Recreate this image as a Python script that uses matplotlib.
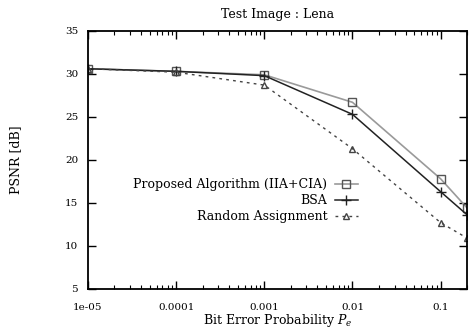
import matplotlib
matplotlib.use('Agg')
import matplotlib.pyplot as plt
import numpy as np

plt.rcParams['font.family'] = 'DejaVu Serif'
plt.rcParams['mathtext.fontset'] = 'dejavuserif'

# bit error probabilities
ber = [1e-5, 1e-4, 1e-3, 1e-2, 0.1, 0.2]
# PSNR values
psnr_proposed = [30.6, 30.3, 29.9, 26.7, 17.8, 14.4]
psnr_bsa = [30.6, 30.3, 29.8, 25.3, 16.3, 13.6]
psnr_random = [30.6, 30.2, 28.7, 21.3, 12.7, 10.9]

labels = ['Proposed Algorithm (IIA+CIA)', 'BSA', 'Random Assignment']
xticks = [1e-5, 1e-4, 1e-3, 1e-2, 0.1]
xticklabels = ['1e-05', '0.0001', '0.001', '0.01', '0.1']
yticks = [5, 10, 15, 20, 25, 30, 35]

fig = plt.figure(figsize=(4.7, 3.29), dpi=100)
ax = fig.add_axes([0.187, 0.122, 0.807, 0.784])

ax.plot(ber, psnr_proposed, color='#9a9a9a', lw=1.2, marker='s', ms=6,
        mfc='none', mec='#555555', label=labels[0])
ax.plot(ber, psnr_bsa, color='#222222', lw=1.1, marker='+', ms=7,
        mec='#222222', label=labels[1])
ax.plot(ber, psnr_random, color='#444444', lw=1.0, ls=(0, (2, 3)), marker='^',
        ms=5, mfc='none', mec='#444444', label=labels[2])

ax.set_xscale('log')
ax.set_xlim(1e-5, 0.2)
ax.set_ylim(5, 35)
ax.set_xticks(xticks)
ax.set_xticklabels(xticklabels)
ax.set_yticks(yticks)
ax.tick_params(which='both', direction='in', top=True, right=True, labelsize=7.5)
ax.tick_params(which='major', length=6, width=1.0, pad=7)
ax.tick_params(axis='x', which='major', pad=10)
ax.tick_params(which='minor', length=3, width=0.8)
for s in ax.spines.values():
    s.set_linewidth(1.3)

ax.set_title('Test Image : Lena', fontsize=9, pad=9)
ax.set_xlabel('Bit Error Probability $P_e$', fontsize=9, labelpad=0)
ax.set_ylabel('PSNR [dB]', fontsize=9, labelpad=31)

leg = ax.legend(loc='upper right', bbox_to_anchor=(0.712, 0.43), frameon=False,
                markerfirst=False, fontsize=9, handlelength=1.85, borderpad=0,
                borderaxespad=0, labelspacing=0.25, handletextpad=0.6)
leg._legend_box.align = 'right'
for t in leg.get_texts():
    t.set_ha('right')

fig.savefig('out.png', dpi=100)
